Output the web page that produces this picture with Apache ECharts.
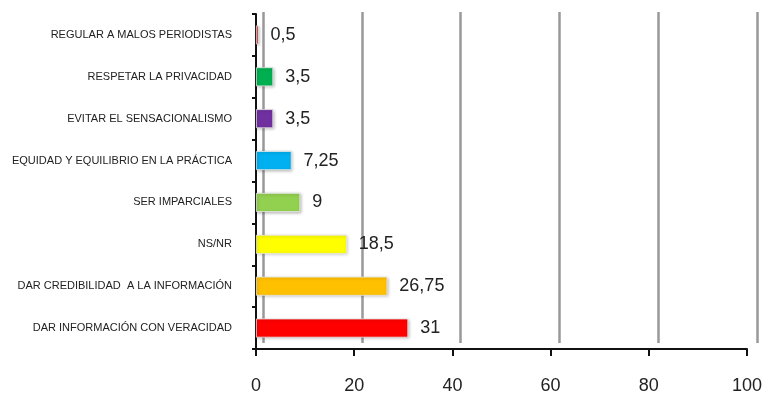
<!DOCTYPE html>
<html>
<head>
<meta charset="utf-8">
<script src="https://cdn.jsdelivr.net/npm/echarts@6/dist/echarts.min.js"></script>
<style>
  html, body { margin: 0; padding: 0; background: #fff; }
  #main { width: 767px; height: 405px; }
</style>
</head>
<body>
<div id="main"></div>
<script>
var categories = [
  'REGULAR A MALOS PERIODISTAS',
  'RESPETAR LA PRIVACIDAD',
  'EVITAR EL SENSACIONALISMO',
  'EQUIDAD Y EQUILIBRIO EN LA PRÁCTICA',
  'SER IMPARCIALES',
  'NS/NR',
  'DAR CREDIBILIDAD  A LA INFORMACIÓN',
  'DAR INFORMACIÓN CON VERACIDAD'
];
var values = [0.5, 3.5, 3.5, 7.25, 9, 18.5, 26.75, 31];
var barColors = ['#C00000', '#00B050', '#7030A0', '#00B0F0', '#92D050', '#FFFF00', '#FFC000', '#FF0000'];
var xTicks = [0, 20, 40, 60, 80, 100];

var font = 'Liberation Sans';

var option = {
  animation: false,
  backgroundColor: '#fff',
  grid: [
    { left: 256, right: 20, top: 14, bottom: 56 },
    { left: 263, right: 10, top: 12, bottom: 62 }
  ],
  xAxis: [{
    gridIndex: 0,
    type: 'value',
    min: xTicks[0],
    max: xTicks[xTicks.length - 1],
    interval: 20,
    axisLine: { show: true, lineStyle: { color: '#111', width: 2 } },
    axisTick: { show: true, length: 7, lineStyle: { color: '#111', width: 2 } },
    axisLabel: { margin: 28, fontSize: 18, color: '#222', fontFamily: font },
    splitLine: { show: false }
  }, {
    gridIndex: 1,
    type: 'value',
    min: 0,
    max: 100,
    interval: 20,
    axisLine: { show: false },
    axisTick: { show: false },
    axisLabel: { show: false },
    splitLine: { show: true, lineStyle: { color: '#999', width: 2.5 } }
  }],
  yAxis: [{
    gridIndex: 0,
    type: 'category',
    data: categories,
    inverse: true,
    axisLine: { show: true, lineStyle: { color: '#111', width: 2 } },
    axisTick: { show: true, length: 4, lineStyle: { color: '#111', width: 2 } },
    axisLabel: { margin: 24, fontSize: 11, color: '#222', fontFamily: font }
  }, {
    gridIndex: 1,
    type: 'category',
    data: categories,
    show: false
  }],
  series: [{
    type: 'bar',
    xAxisIndex: 0,
    yAxisIndex: 0,
    data: values.map(function (v, i) {
      return { value: v, itemStyle: { color: barColors[i] } };
    }),
    barWidth: 19,
    itemStyle: {
      borderColor: '#e8e8e8',
      borderWidth: 0.8,
      shadowBlur: 3,
      shadowColor: 'rgba(0,0,0,0.25)',
      shadowOffsetX: 1,
      shadowOffsetY: 1
    },
    label: {
      show: true,
      position: 'right',
      distance: 12,
      fontSize: 18,
      color: '#222',
      fontFamily: font,
      formatter: function (p) {
        return String(p.value).replace('.', ',');
      }
    }
  }]
};

echarts.init(document.getElementById('main')).setOption(option);
</script>
</body>
</html>
